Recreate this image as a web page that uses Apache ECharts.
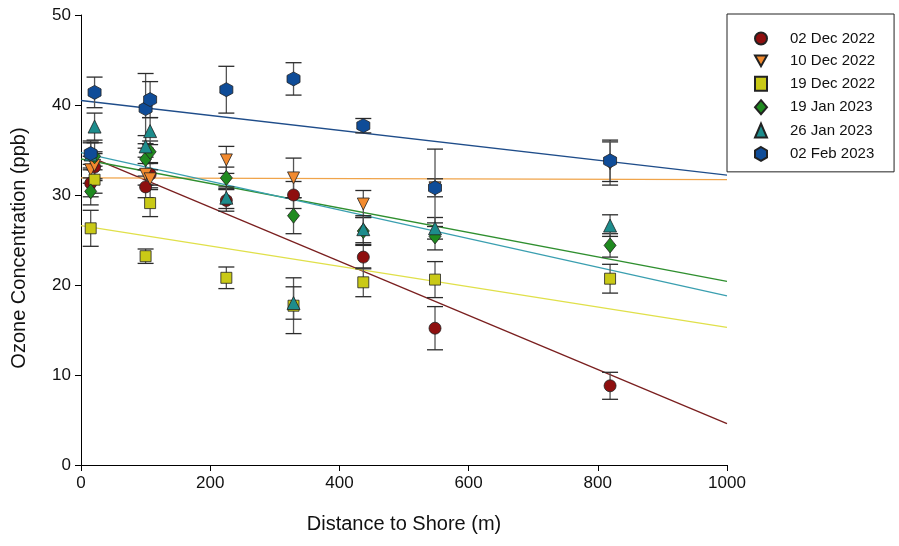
<!DOCTYPE html>
<html>
<head>
<meta charset="utf-8">
<script src="https://cdn.jsdelivr.net/npm/echarts@6/dist/echarts.min.js"></script>
<style>
html,body{margin:0;padding:0;background:#fff;}
#chart{width:899px;height:546px;}
</style>
</head>
<body>
<div id="chart"></div>
<script>
// Distances to shore (m) for the stations
const xDist = [15, 21, 100, 107, 225, 329, 437, 548, 819];

const seriesNames = ['02 Dec 2022', '10 Dec 2022', '19 Dec 2022', '19 Jan 2023', '26 Jan 2023', '02 Feb 2023'];

// Ozone concentration (ppb) per station
const dec02 = [31.3, 33.1, 30.9, 32.3, 29.4, 30.0, 23.1, 15.2, 8.8];
const dec10 = [32.8, 33.3, 32.3, 31.8, 33.9, 31.9, 29.0, 30.8, 33.5];
const dec19 = [26.3, 31.7, 23.2, 29.1, 20.8, 17.7, 20.3, 20.6, 20.7];
const jan19 = [30.4, 34.3, 34.0, 34.8, 31.9, 27.7, 26.0, 25.4, 24.4];
const jan26 = [34.5, 37.6, 35.4, 37.1, 29.7, 18.0, 26.2, 26.3, 26.6];
const feb02 = [34.6, 41.4, 39.6, 40.6, 41.7, 42.9, 37.7, 30.8, 33.8];

// Error (± ppb)
const dec02Err = [1.5, 1.5, 1.2, 1.2, 1.2, 1.5, 1.3, 2.4, 1.5];
const dec10Err = [1.5, 1.5, 1.2, 1.0, 1.5, 2.2, 1.5, 1.0, 2.4];
const dec19Err = [2.0, 1.5, 0.8, 1.5, 1.2, 3.1, 1.6, 2.0, 1.6];
const jan19Err = [1.5, 1.5, 1.2, 1.2, 1.2, 2.0, 1.5, 1.5, 1.3];
const jan26Err = [1.5, 1.5, 1.2, 1.5, 1.2, 1.8, 1.5, 1.2, 1.2];
const feb02Err = [1.2, 1.7, 3.9, 2.0, 2.6, 1.8, 0.8, 4.3, 2.3];

// Regression lines: start x, end x, value at start and at end
const trendX0 = [15, 0, 0, 0, 0, 0];
const trendX1 = [1000, 1000, 1000, 1000, 1000, 1000];
const trendStart = [34.2, 31.9, 26.6, 34.0, 34.7, 40.5];
const trendEnd = [4.6, 31.7, 15.3, 20.4, 18.8, 32.2];

const xTicks = [0, 200, 400, 600, 800, 1000];
const yTicks = [0, 10, 20, 30, 40, 50];

const values = [dec02, dec10, dec19, jan19, jan26, feb02];
const errors = [dec02Err, dec10Err, dec19Err, jan19Err, jan26Err, feb02Err];

const colors = ['#8e0f0f', '#f28a2e', '#c9c916', '#1f8a1f', '#1d8c8c', '#0f4c98'];
const lineColors = ['#7a1f1f', '#f0a44a', '#e0e04a', '#2f8f2f', '#3a9fb0', '#1f4d8a'];
const symbols = [
  'circle',
  'path://M0,0 L10,0 L5,9 Z',
  'rect',
  'diamond',
  'triangle',
  'path://M5,0 L9.33,2.5 L9.33,7.5 L5,10 L0.67,7.5 L0.67,2.5 Z'
];
const sizes = [12, 12, 11, [12, 15], 13, [13, 14]];

const series = [];
// trend lines
seriesNames.forEach((n, i) => {
  series.push({
    name: 'trend' + i,
    type: 'line',
    data: [[trendX0[i], trendStart[i]], [trendX1[i], trendEnd[i]]],
    symbol: 'none',
    lineStyle: {color: lineColors[i], width: 1.3},
    z: 1,
    silent: true
  });
});
// error bars
seriesNames.forEach((n, i) => {
  series.push({
    name: 'err' + i,
    type: 'custom',
    data: xDist.map((x, k) => [x, values[i][k] - errors[i][k], values[i][k] + errors[i][k]]),
    renderItem: function (params, api) {
      const x = api.value(0), lo = api.value(1), hi = api.value(2);
      const pLo = api.coord([x, lo]);
      const pHi = api.coord([x, hi]);
      const w = 8;
      const st = {stroke: '#2b2b2b', lineWidth: 1.3};
      return {
        type: 'group',
        children: [
          {type: 'line', shape: {x1: pLo[0], y1: pLo[1], x2: pHi[0], y2: pHi[1]}, style: {stroke: '#555', lineWidth: 1.3}},
          {type: 'line', shape: {x1: pLo[0] - w, y1: pLo[1], x2: pLo[0] + w, y2: pLo[1]}, style: st},
          {type: 'line', shape: {x1: pHi[0] - w, y1: pHi[1], x2: pHi[0] + w, y2: pHi[1]}, style: st}
        ]
      };
    },
    z: 2,
    silent: true
  });
});
// points
seriesNames.forEach((n, i) => {
  series.push({
    name: n,
    type: 'scatter',
    data: xDist.map((x, k) => [x, values[i][k]]),
    symbol: symbols[i],
    symbolSize: sizes[i],
    itemStyle: {color: colors[i], borderColor: '#222', borderWidth: 0.8, opacity: 1},
    z: 3
  });
});

const chart = echarts.init(document.getElementById('chart'), null, {renderer: 'canvas'});
chart.setOption({
  animation: false,
  backgroundColor: '#fff',
  grid: {left: 81, right: 172, top: 15, bottom: 81, containLabel: false, outerBoundsMode: 'none'},
  xAxis: {
    type: 'value',
    min: xTicks[0], max: xTicks[xTicks.length - 1], interval: 200,
    name: 'Distance to Shore (m)',
    nameLocation: 'middle', nameGap: 49,
    nameTextStyle: {fontFamily: 'Liberation Sans', fontSize: 20, color: '#111'},
    axisLine: {show: true, lineStyle: {color: '#000', width: 1}},
    axisTick: {show: true, length: 6, inside: false, lineStyle: {color: '#000'}},
    axisLabel: {fontFamily: 'Liberation Sans', fontSize: 17, color: '#111', margin: 10,
      formatter: function (v) { return String(v); }},
    splitLine: {show: false}
  },
  yAxis: {
    type: 'value',
    min: yTicks[0], max: yTicks[yTicks.length - 1], interval: 10,
    name: 'Ozone Concentration (ppb)',
    nameLocation: 'middle', nameGap: 52, nameRotate: 90,
    nameTextStyle: {fontFamily: 'Liberation Sans', fontSize: 20, color: '#111', padding: [0, 16, 0, 0]},
    axisLine: {show: true, onZero: false, lineStyle: {color: '#000', width: 1}},
    axisTick: {show: true, length: 6, inside: false, lineStyle: {color: '#000'}},
    axisLabel: {fontFamily: 'Liberation Sans', fontSize: 17, color: '#111', margin: 10},
    splitLine: {show: false}
  },
  legend: {
    data: seriesNames,
    orient: 'vertical',
    left: 727, top: 14,
    padding: [17, 19, 10, 27],
    itemGap: 7.4,
    itemWidth: 12, itemHeight: 14,
    borderColor: '#222', borderWidth: 1,
    backgroundColor: '#fff',
    textStyle: {fontFamily: 'Liberation Sans', fontSize: 15, color: '#111', padding: [0, 0, 0, 18]}
  },
  series: series
});
</script>
</body>
</html>
